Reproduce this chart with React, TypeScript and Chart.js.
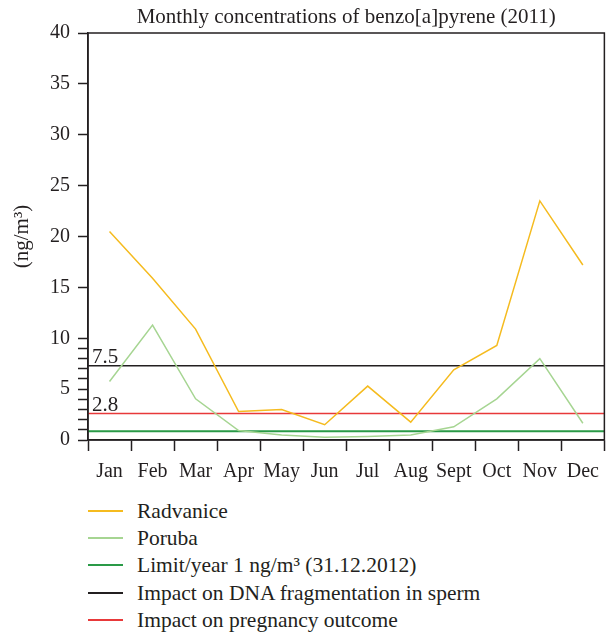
import React, { useEffect, useRef } from 'react';
import { Chart, registerables } from 'chart.js';

Chart.register(...registerables);

const TITLE = 'Monthly concentrations of benzo[a]pyrene (2011)';
const Y_TITLE = '(ng/m³)';
const MONTHS = ['Jan', 'Feb', 'Mar', 'Apr', 'May', 'Jun', 'Jul', 'Aug', 'Sept', 'Oct', 'Nov', 'Dec'];
const RADVANICE = [20.5, 15.9, 10.9, 2.8, 3.0, 1.5, 5.3, 1.75, 6.9, 9.3, 23.5, 17.2];
const PORUBA = [5.75, 11.3, 4.05, 0.93, 0.5, 0.28, 0.35, 0.5, 1.3, 4.05, 8.0, 1.65];
const LIMIT_LEVEL = 0.85;
const DNA_LEVEL = 7.3;
const PREGNANCY_LEVEL = 2.6;
const DNA_LABEL = '7.5';
const PREGNANCY_LABEL = '2.8';
const Y_TICKS = [0, 1, 2, 3, 4, 5, 6, 7, 8, 9, 10, 15, 20, 25, 30, 35, 40];

const SERIES_LABELS = [
  'Radvanice',
  'Poruba',
  'Limit/year 1 ng/m³ (31.12.2012)',
  'Impact on DNA fragmentation in sperm',
  'Impact on pregnancy outcome',
];
const SERIES_COLORS = ['#f5bb1f', '#a6d592', '#2a9a47', '#231f20', '#e8393a'];

const FONT = "'Liberation Serif', 'Times New Roman', serif";
const INK = '#231f20';

export default function App() {
  const canvasRef = useRef<HTMLCanvasElement | null>(null);

  useEffect(() => {
    const canvas = canvasRef.current;
    if (!canvas) return;

    const decor = {
      id: 'decor',
      afterDatasetsDraw(chart: any) {
        const { ctx, chartArea } = chart;
        const y = chart.scales.y;
        ctx.save();
        ctx.fillStyle = INK;
        ctx.font = `21px ${FONT}`;
        ctx.textAlign = 'left';
        ctx.textBaseline = 'alphabetic';
        ctx.fillText(DNA_LABEL, chartArea.left + 4, y.getPixelForValue(DNA_LEVEL) - 3);
        ctx.fillText(PREGNANCY_LABEL, chartArea.left + 4, y.getPixelForValue(PREGNANCY_LEVEL) - 3);
        ctx.restore();
      },
      afterDraw(chart: any) {
        const { ctx, chartArea } = chart;
        ctx.save();
        ctx.strokeStyle = INK;
        ctx.lineWidth = 1.5;
        ctx.strokeRect(chartArea.left, chartArea.top, chartArea.right - chartArea.left, chartArea.bottom - chartArea.top);
        ctx.fillStyle = INK;
        ctx.font = `21px ${FONT}`;
        ctx.textAlign = 'center';
        ctx.textBaseline = 'alphabetic';
        ctx.fillText(TITLE, (chartArea.left + chartArea.right) / 2, 23);
        ctx.restore();
      },
    };

    const chart = new Chart(canvas, {
      type: 'line',
      data: {
        labels: MONTHS,
        datasets: [
          {
            label: SERIES_LABELS[0],
            data: RADVANICE,
            borderColor: SERIES_COLORS[0],
            borderWidth: 1.5,
            pointRadius: 0,
            tension: 0,
            xAxisID: 'x',
          },
          {
            label: SERIES_LABELS[1],
            data: PORUBA,
            borderColor: SERIES_COLORS[1],
            borderWidth: 1.5,
            pointRadius: 0,
            tension: 0,
            xAxisID: 'x',
          },
          {
            label: SERIES_LABELS[2],
            data: [{ x: 0, y: LIMIT_LEVEL }, { x: 12, y: LIMIT_LEVEL }] as any,
            borderColor: SERIES_COLORS[2],
            borderWidth: 2,
            pointRadius: 0,
            xAxisID: 'xl',
          },
          {
            label: SERIES_LABELS[3],
            data: [{ x: 0, y: DNA_LEVEL }, { x: 12, y: DNA_LEVEL }] as any,
            borderColor: SERIES_COLORS[3],
            borderWidth: 1.5,
            pointRadius: 0,
            xAxisID: 'xl',
          },
          {
            label: SERIES_LABELS[4],
            data: [{ x: 0, y: PREGNANCY_LEVEL }, { x: 12, y: PREGNANCY_LEVEL }] as any,
            borderColor: SERIES_COLORS[4],
            borderWidth: 1.5,
            pointRadius: 0,
            xAxisID: 'xl',
          },
        ],
      },
      options: {
        responsive: false,
        animation: false,
        events: [],
        layout: { padding: { top: 33, right: 1, left: 0, bottom: 0 } },
        plugins: {
          legend: { display: false },
          title: { display: false },
          tooltip: { enabled: false },
        },
        scales: {
          x: {
            type: 'category',
            offset: true,
            grid: {
              offset: true,
              drawOnChartArea: false,
              drawTicks: true,
              tickLength: 11,
              tickColor: INK,
              tickWidth: 1.5,
            },
            border: { display: true, color: INK, width: 1.5 },
            ticks: {
              color: INK,
              font: { family: FONT, size: 20 },
              padding: 9,
              maxRotation: 0,
              autoSkip: false,
            },
            afterFit(scale: any) {
              scale.height = 50;
            },
          },
          xl: {
            type: 'linear',
            min: 0,
            max: 12,
            display: false,
          },
          y: {
            type: 'linear',
            min: 0,
            max: 40,
            afterBuildTicks(scale: any) {
              scale.ticks = Y_TICKS.map((v) => ({ value: v }));
            },
            grid: {
              drawOnChartArea: false,
              drawTicks: true,
              tickLength: 10,
              tickColor: INK,
              tickWidth: 1.5,
            },
            border: { display: true, color: INK, width: 1.5 },
            ticks: {
              color: INK,
              font: { family: FONT, size: 20 },
              padding: 8,
              autoSkip: false,
              callback: (v: any) => (Number(v) % 5 === 0 ? String(v) : ''),
            },
            title: {
              display: true,
              text: Y_TITLE,
              color: INK,
              font: { family: FONT, size: 21 },
              padding: { top: 10, bottom: 0 },
            },
            afterFit(scale: any) {
              scale.width = 88;
            },
          },
        },
      },
      plugins: [decor],
    });

    return () => chart.destroy();
  }, []);

  const legendTop = 498;
  const legendStep = 27.2;

  return (
    <div style={{ position: 'absolute', left: 0, top: 0, width: 608, height: 634, background: '#fff' }}>
      <canvas ref={canvasRef} width={608} height={490} style={{ display: 'block' }} />
      {SERIES_LABELS.map((label, i) => (
        <div
          key={label}
          style={{
            position: 'absolute',
            left: 88,
            top: Math.round(legendTop + i * legendStep),
            height: 26,
            display: 'flex',
            alignItems: 'center',
            fontFamily: FONT,
            fontSize: 21.5,
            color: INK,
            whiteSpace: 'nowrap',
          }}
        >
          <span style={{ display: 'inline-block', width: 35, height: 2, background: SERIES_COLORS[i], marginRight: 14 }} />
          <span>{label}</span>
        </div>
      ))}
    </div>
  );
}
